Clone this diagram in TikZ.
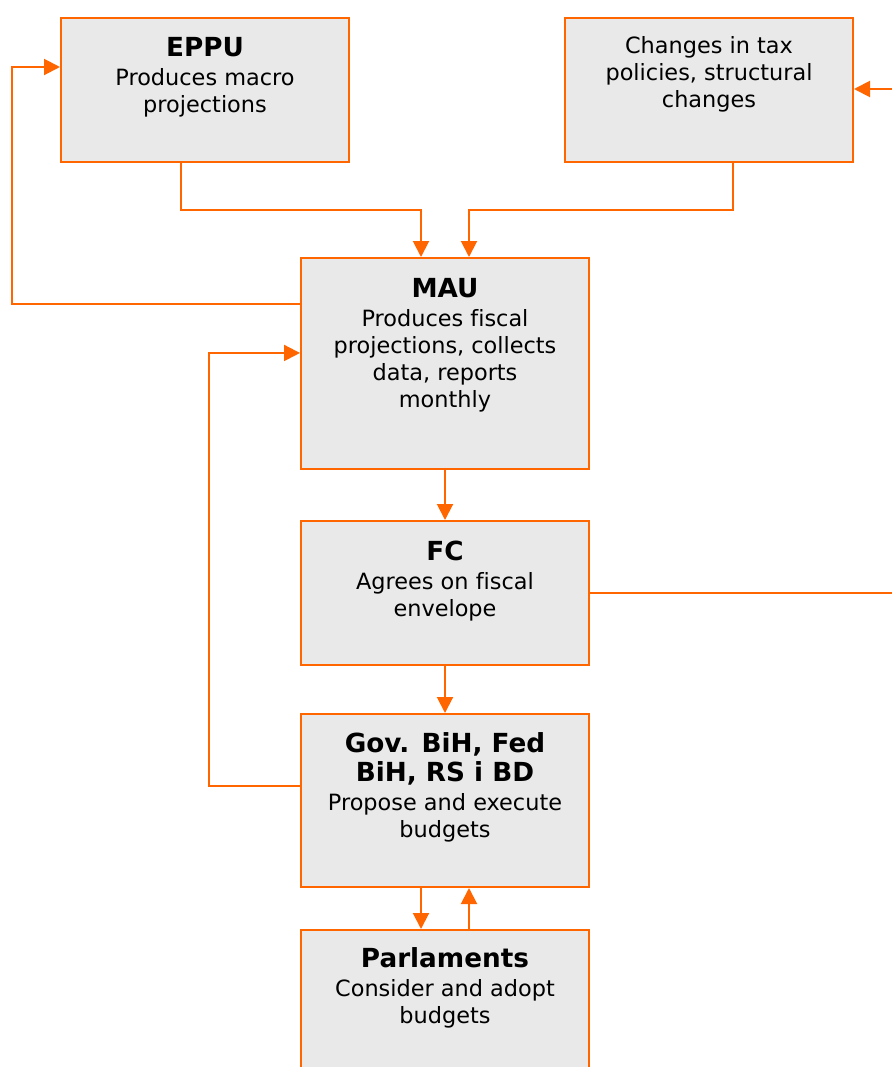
\documentclass[tikz,border=0pt]{standalone}
\usepackage{fontspec}
\setmainfont{DejaVu Sans}[Ligatures=NoCommon]
\usetikzlibrary{arrows.meta}
\definecolor{frameorange}{RGB}{255,102,0}
\definecolor{boxgray}{RGB}{233,233,233}
\newcommand{\hd}[1]{{\fontsize{19.7}{21.75}\selectfont\bfseries #1}}

\begin{document}
\begin{tikzpicture}[
  x=0.75pt, y=-0.75pt,
  >={Triangle[length=12pt,width=12pt]},
  line width=1.5pt,
  box/.style={draw=frameorange,fill=boxgray,minimum width=216pt,inner sep=0},
  txt/.style={anchor=north,inner sep=0,align=center,font=\fontsize{16.8}{20.25}\selectfont},
  link/.style={draw=frameorange,->}
  ]
  \useasboundingbox (0,0) rectangle (892,1067);

  % boxes
  \node [box,minimum height=108pt] (eppu) at (205,90) {};
  \node [box,minimum height=108pt] (chg) at (709,90) {};
  \node [box,minimum height=158.25pt] (mau) at (445,363.5) {};
  \node [box,minimum height=108pt] (fc) at (445,593) {};
  \node [box,minimum height=129.75pt] (gov) at (445,800.5) {};
  \node [box,minimum height=108pt] (parl) at (445,1002) {};

  % texts
  \node [txt] (eppu-t) at (205,36) {\hd{EPPU}\\[1.5pt] Produces macro\\ projections};
  \node [txt] (chg-t) at (709,35) {Changes in tax\\ policies, structural\\ changes};
  \node [txt] (mau-t) at (445,277) {\hd{MAU}\\[1.5pt] Produces fiscal\\ projections, collects\\ data, reports\\ monthly};
  \node [txt] (fc-t) at (445,540) {\hd{FC}\\[1.5pt] Agrees on fiscal\\ envelope};
  \node [txt] (gov-t) at (445,732) {\hd{Gov. BiH, Fed}\\[1.5pt] \hd{BiH, RS i BD}\\[1.5pt] Propose and execute\\ budgets};
  \node [txt] (parl-t) at (445,947) {\hd{Parlaments}\\[1.5pt] Consider and adopt\\ budgets};

  % free ends at the right edge
  \coordinate (fc-out) at (892,593);
  \coordinate (chg-in) at (892,89);

  % connectors
  \draw[link] ([xshift=-18pt]eppu.south) -- ++(0,47) -| ([xshift=-18pt]mau.north);
  \draw[link] ([xshift=18pt]chg.south) -- ++(0,47) -| ([xshift=18pt]mau.north);
  \draw[link] ([yshift=44.6pt]mau.west) -- ++(-288,0) |- ([yshift=17.25pt]eppu.west);
  \draw[link] ([yshift=10.9pt]gov.west) -- ++(-91,0) |- ([yshift=7.9pt]mau.west);
  \draw[link] (mau) -- (fc);
  \draw[link] (fc) -- (gov);
  \draw[link] ([xshift=-18pt]gov.south) -- ([xshift=-18pt]parl.north);
  \draw[link] ([xshift=18pt]parl.north) -- ([xshift=18pt]gov.south);
  \draw[draw=frameorange] (fc.east) -- (fc-out);
  \draw[link] (chg-in) -- (chg-in -| chg.east);

\end{tikzpicture}
\end{document}
